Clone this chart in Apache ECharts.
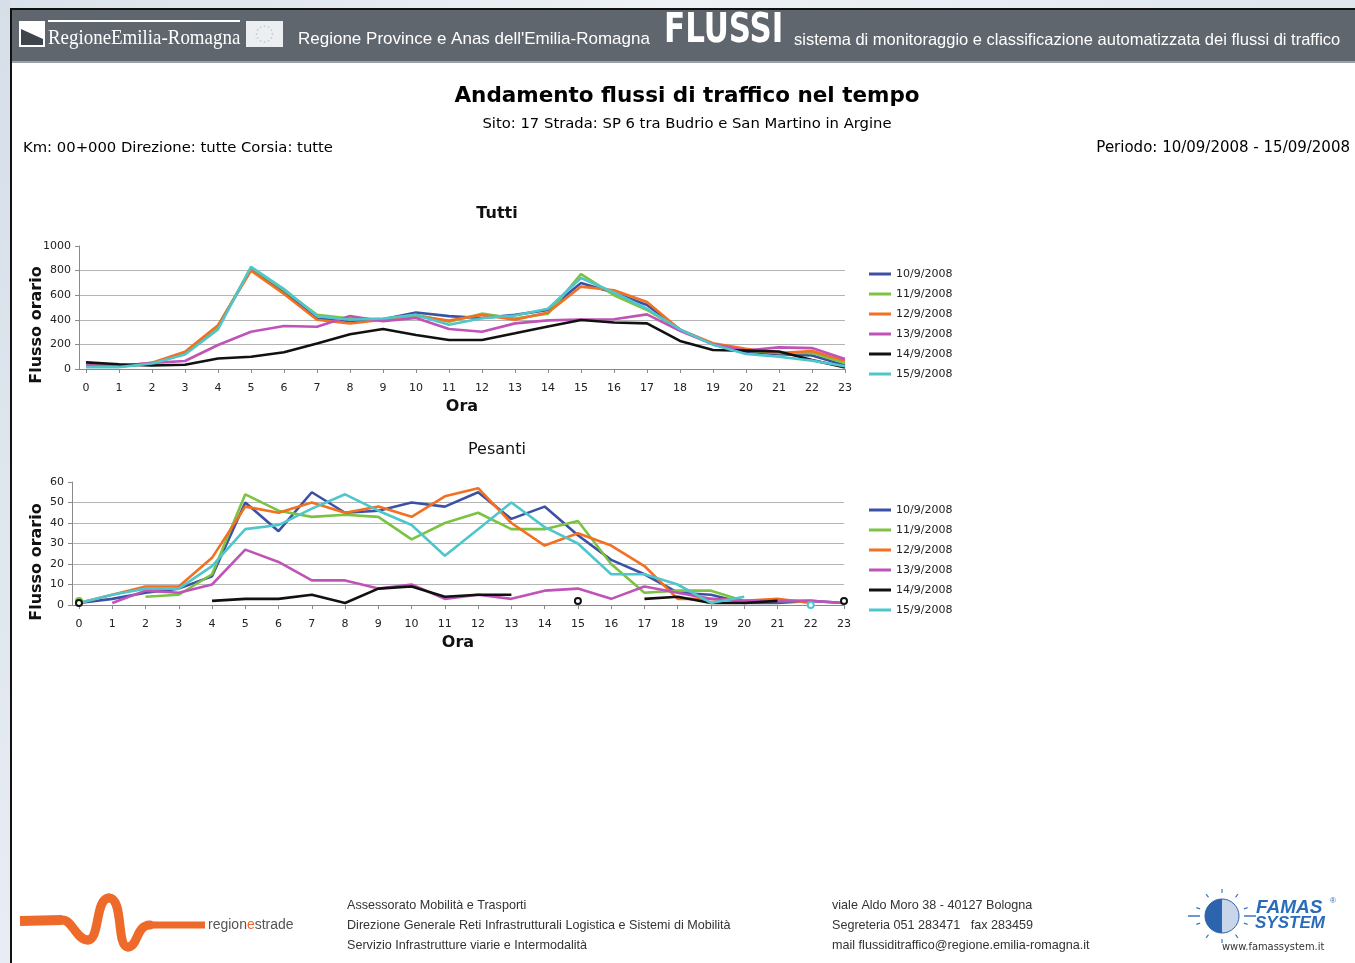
<!DOCTYPE html>
<html>
<head>
<meta charset="utf-8">
<title>Andamento flussi di traffico nel tempo</title>
<script src="https://cdn.jsdelivr.net/npm/echarts@6/dist/echarts.min.js"></script>
<style>
  html, body { margin: 0; padding: 0; background: #fff; }
  #chart { width: 1355px; height: 963px; }
</style>
</head>
<body>
<div id="chart"></div>
<script>
// ore del giorno (asse x)
const hours = [0, 1, 2, 3, 4, 5, 6, 7, 8, 9, 10, 11, 12, 13, 14, 15, 16, 17, 18, 19, 20, 21, 22, 23];
const days = ['10/9/2008', '11/9/2008', '12/9/2008', '13/9/2008', '14/9/2008', '15/9/2008'];
const dayColors = ['#3c51a6', '#7cc243', '#f36f21', '#c053b7', '#111111', '#4ec6cc'];

// Tutti - flusso orario
const tutti10 = [25, 20, 45, 130, 350, 810, 630, 410, 390, 405, 460, 430, 415, 440, 480, 700, 620, 520, 320, 200, 140, 120, 110, 30];
const tutti11 = [30, 20, 45, 130, 340, 825, 640, 440, 410, 405, 440, 385, 450, 410, 450, 772, 600, 480, 320, 200, 150, 130, 133, 46];
const tutti12 = [30, 22, 50, 140, 355, 800, 610, 400, 370, 400, 430, 395, 440, 400, 460, 670, 640, 545, 320, 210, 165, 130, 146, 68];
const tutti13 = [30, 25, 50, 65, 195, 303, 350, 344, 430, 388, 415, 325, 303, 371, 395, 402, 404, 444, 310, 200, 150, 176, 170, 82];
const tutti14 = [54, 38, 28, 35, 85, 100, 136, 208, 282, 325, 276, 236, 236, 290, 345, 398, 378, 371, 228, 154, 149, 142, 73, 12];
const tutti15 = [15, 15, 45, 118, 322, 830, 650, 430, 400, 410, 440, 360, 412, 435, 490, 740, 622, 490, 322, 198, 122, 100, 68, 22];

// Pesanti - flusso orario
const pesanti10 = [1, 3, 6, 8, 14, 50, 36, 55, 45, 46, 50, 48, 55, 42, 48, 34, 22, 15, 6, 5, 1, 1, 2, 1];
const pesanti11 = [2, null, 4, 5, 15, 54, 46, 43, 44, 43, 32, 40, 45, 37, 37, 41, 20, 6, 7, 7, 2, 2, 2, null];
const pesanti12 = [1, 5, 9, 9, 23, 48, 45, 50, 45, 48, 43, 53, 57, 40, 29, 35, 29, 19, 3, 3, 2, 3, 1, null];
const pesanti13 = [null, 1, 7, 6, 10, 27, 21, 12, 12, 8, 10, 3, 5, 3, 7, 8, 3, 9, 6, 3, 2, 2, 2, 1];
const pesanti14 = [1, null, null, null, 2, 3, 3, 5, 1, 8, 9, 4, 5, 5, null, 2, null, 3, 4, 1, 1, 2, null, 2];
const pesanti15 = [1, 5, 8, 8, 19, 37, 39, 47, 54, 46, 39, 24, 37, 50, 38, 30, 15, 15, 10, 1, 4, null, 0, null];

const tuttiSeries = [tutti10, tutti11, tutti12, tutti13, tutti14, tutti15];
const pesantiSeries = [pesanti10, pesanti11, pesanti12, pesanti13, pesanti14, pesanti15];

const FONT = 'DejaVu Sans';

// punti isolati (senza vicini) disegnati come cerchietti
function toPoints(values) {
  return values.map((v, i) => {
    const prev = i > 0 ? values[i - 1] : null;
    const next = i < values.length - 1 ? values[i + 1] : null;
    if (v != null && prev == null && next == null) {
      return { value: [hours[i], v], symbol: 'emptyCircle', symbolSize: 6, itemStyle: { borderWidth: 2.2 } };
    }
    return [hours[i], v];
  });
}

function makeAxes(gridIndex, minX, yMax, yInterval) {
  const xAxis = {
    type: 'value', gridIndex, min: minX, max: 23,
    axisLine: { onZero: false, lineStyle: { color: '#8a8a8a', width: 1 } },
    axisTick: { show: true, length: 4, customValues: hours, lineStyle: { color: '#8a8a8a' } },
    axisLabel: { customValues: hours, color: '#222', fontSize: 11, fontFamily: FONT, margin: 14 },
    splitLine: { show: false },
    name: 'Ora', nameLocation: 'middle', nameGap: 30,
    nameTextStyle: { fontSize: 16, fontWeight: 'bold', fontFamily: FONT, color: '#111' }
  };
  const yAxis = {
    type: 'value', gridIndex, min: 0, max: yMax, interval: yInterval,
    axisLine: { show: true, onZero: false, lineStyle: { color: '#8a8a8a', width: 1 } },
    axisTick: { show: true, length: 4, lineStyle: { color: '#8a8a8a' } },
    axisLabel: { color: '#222', fontSize: 11, fontFamily: FONT, margin: 8, formatter: v => String(v) },
    splitLine: { show: true, showMaxLine: false, lineStyle: { color: '#b4b4b4', width: 1 } }
  };
  return { xAxis, yAxis };
}

const axesTutti = makeAxes(0, -0.212, 1000, 200);
const axesPesanti = makeAxes(1, -0.21, 60, 10);

function makeSeries(list, idx) {
  return list.map((vals, i) => ({
    name: days[i],
    type: 'line',
    xAxisIndex: idx, yAxisIndex: idx,
    data: toPoints(vals),
    symbol: 'none',
    showSymbol: true,
    connectNulls: false,
    animation: false,
    color: dayColors[i],
    lineStyle: { width: 2.6, color: dayColors[i] },
    itemStyle: { color: dayColors[i] }
  }));
}

function legendAt(topY) {
  return {
    data: days, orient: 'vertical', left: 869, top: topY, padding: 0,
    icon: 'rect', itemWidth: 22, itemHeight: 3, itemGap: 8,
    selectedMode: false,
    textStyle: { fontSize: 11, fontFamily: FONT, color: '#222', lineHeight: 12 }
  };
}

// decorazioni della pagina (intestazione e piè di pagina)
const euStars = [];
for (let k = 0; k < 12; k++) {
  const a = k * Math.PI / 6;
  euStars.push({ type: 'circle', shape: { cx: 264.5 + 8 * Math.cos(a), cy: 34 + 8 * Math.sin(a), r: 0.9 }, style: { fill: '#c9cdd2' } });
}
const famasRays = [];
for (let k = 0; k < 10; k++) {
  const a = -Math.PI / 2 + k * Math.PI / 5;
  famasRays.push({ type: 'line', shape: { x1: 1222 + 23 * Math.cos(a), y1: 916 + 23 * Math.sin(a), x2: 1222 + 27 * Math.cos(a), y2: 916 + 27 * Math.sin(a) }, style: { stroke: '#3a79c0', lineWidth: 1.2 } });
}
const waveStyle = { fill: 'none', stroke: '#ee6a2a', lineWidth: 9, lineCap: 'round' };
const wave = [
  { type: 'line', shape: { x1: 20, y1: 921, x2: 62, y2: 920 }, style: Object.assign({}, waveStyle, { lineCap: 'butt', lineWidth: 10 }) },
  { type: 'bezierCurve', shape: { x1: 62, y1: 920, cpx1: 72, cpy1: 919, cpx2: 76, cpy2: 940, x2: 88, y2: 940 }, style: waveStyle },
  { type: 'bezierCurve', shape: { x1: 88, y1: 940, cpx1: 100, cpy1: 940, cpx2: 95, cpy2: 898, x2: 109, y2: 898 }, style: waveStyle },
  { type: 'bezierCurve', shape: { x1: 109, y1: 898, cpx1: 124, cpy1: 898, cpx2: 116, cpy2: 947, x2: 128, y2: 947 }, style: waveStyle },
  { type: 'bezierCurve', shape: { x1: 128, y1: 947, cpx1: 138, cpy1: 947, cpx2: 136, cpy2: 925, x2: 150, y2: 925 }, style: waveStyle },
  { type: 'line', shape: { x1: 150, y1: 925, x2: 205, y2: 925 }, style: Object.assign({}, waveStyle, { lineCap: 'butt', lineWidth: 7 }) }
];

const footFont = '12.6px "Liberation Sans"';
const graphics = [
  { type: 'rect', z: -10, shape: { x: 0, y: 0, width: 1355, height: 963 }, style: { fill: '#ffffff' } },
  { type: 'rect', z: -9, shape: { x: 0, y: 0, width: 1355, height: 9 }, style: { fill: new echarts.graphic.LinearGradient(0, 0, 1, 0, [{ offset: 0, color: '#d9e1ea' }, { offset: 0.5, color: '#eef2f6' }, { offset: 1, color: '#dfe6ee' }]) } },
  { type: 'rect', z: -9, shape: { x: 0, y: 0, width: 10, height: 963 }, style: { fill: new echarts.graphic.LinearGradient(0, 0, 0, 1, [{ offset: 0, color: '#d6dee8' }, { offset: 1, color: '#e8edf3' }]) } },
  { type: 'rect', shape: { x: 10, y: 8, width: 1345, height: 2 }, style: { fill: '#111' } },
  { type: 'rect', shape: { x: 10, y: 8, width: 2, height: 955 }, style: { fill: '#111' } },
  // intestazione
  { type: 'rect', shape: { x: 12, y: 10, width: 1343, height: 51 }, style: { fill: '#5f666e' } },
  { type: 'rect', shape: { x: 12, y: 61, width: 1343, height: 2 }, style: { fill: '#9aa0a6' } },
  { type: 'rect', shape: { x: 19, y: 21, width: 26, height: 26 }, style: { fill: '#ffffff' } },
  { type: 'polygon', shape: { points: [[21, 29], [43, 39], [43, 45], [21, 45]] }, style: { fill: '#3f454c' } },
  { type: 'rect', shape: { x: 48, y: 20, width: 192, height: 2 }, style: { fill: '#ffffff' } },
  { type: 'text', x: 48, y: 38, scaleX: 0.86, style: { text: 'RegioneEmilia-Romagna', font: '22px "Liberation Serif"', fill: '#ffffff', verticalAlign: 'middle' } },
  { type: 'rect', shape: { x: 246, y: 21, width: 37, height: 26 }, style: { fill: '#eceff2' } },
  ...euStars,
  { type: 'text', x: 298, y: 39, style: { text: "Regione Province e Anas dell'Emilia-Romagna", font: '17px "Liberation Sans"', fill: '#ffffff', verticalAlign: 'middle' } },
  { type: 'text', x: 664, y: 32, scaleX: 0.86, style: { text: 'FLUSSI', font: 'bold 40px "DejaVu Sans Condensed"', fill: '#ffffff', verticalAlign: 'middle' } },
  { type: 'text', x: 794, y: 40, style: { text: 'sistema di monitoraggio e classificazione automatizzata dei flussi di traffico', font: '16.5px "Liberation Sans"', fill: '#ffffff', verticalAlign: 'middle' } },
  // intestazione del rapporto
  { type: 'text', x: 687, y: 96, style: { text: 'Andamento flussi di traffico nel tempo', font: 'bold 21.5px "DejaVu Sans"', fill: '#000', align: 'center', verticalAlign: 'middle' } },
  { type: 'text', x: 687, y: 124, style: { text: 'Sito: 17 Strada: SP 6 tra Budrio e San Martino in Argine', font: '14.8px "DejaVu Sans"', fill: '#000', align: 'center', verticalAlign: 'middle' } },
  { type: 'text', x: 23, y: 148, style: { text: 'Km: 00+000 Direzione: tutte Corsia: tutte', font: '14.8px "DejaVu Sans"', fill: '#000', verticalAlign: 'middle' } },
  { type: 'text', x: 1350, y: 148, style: { text: 'Periodo: 10/09/2008 - 15/09/2008', font: '15px "DejaVu Sans"', fill: '#000', align: 'right', verticalAlign: 'middle' } },
  // titoli degli assi y
  { type: 'text', x: 37, y: 325, rotation: Math.PI / 2, style: { text: 'Flusso orario', font: 'bold 16px "DejaVu Sans"', fill: '#111', align: 'center', verticalAlign: 'middle' } },
  { type: 'text', x: 37, y: 562, rotation: Math.PI / 2, style: { text: 'Flusso orario', font: 'bold 16px "DejaVu Sans"', fill: '#111', align: 'center', verticalAlign: 'middle' } },
  // piè di pagina
  ...wave,
  { type: 'text', x: 208, y: 925, style: { text: 'region{o|e}strade', font: '14px "Liberation Sans"', fill: '#555', verticalAlign: 'middle', rich: { o: { fill: '#ee6a2a', font: '14px "Liberation Sans"' } } } },
  { type: 'text', x: 347, y: 906, style: { text: 'Assessorato Mobilità e Trasporti', font: footFont, fill: '#333', verticalAlign: 'middle' } },
  { type: 'text', x: 347, y: 926, style: { text: 'Direzione Generale Reti Infrastrutturali Logistica e Sistemi di Mobilità', font: footFont, fill: '#333', verticalAlign: 'middle' } },
  { type: 'text', x: 347, y: 946, style: { text: 'Servizio Infrastrutture viarie e Intermodalità', font: footFont, fill: '#333', verticalAlign: 'middle' } },
  { type: 'text', x: 832, y: 906, style: { text: 'viale Aldo Moro 38 - 40127 Bologna', font: footFont, fill: '#333', verticalAlign: 'middle' } },
  { type: 'text', x: 832, y: 926, style: { text: 'Segreteria 051 283471   fax 283459', font: footFont, fill: '#333', verticalAlign: 'middle' } },
  { type: 'text', x: 832, y: 946, style: { text: 'mail flussiditraffico@regione.emilia-romagna.it', font: footFont, fill: '#333', verticalAlign: 'middle' } },
  ...famasRays,
  { type: 'line', shape: { x1: 1188, y1: 916, x2: 1200, y2: 916 }, style: { stroke: '#3a79c0', lineWidth: 1.5 } },
  { type: 'line', shape: { x1: 1244, y1: 916, x2: 1256, y2: 916 }, style: { stroke: '#3a79c0', lineWidth: 1.5 } },
  { type: 'circle', shape: { cx: 1222, cy: 916, r: 17 }, style: { fill: '#c9d5e8', stroke: '#2c64ad', lineWidth: 1 } },
  { type: 'sector', shape: { cx: 1222, cy: 916, r: 17, startAngle: Math.PI / 2, endAngle: Math.PI * 1.5 }, style: { fill: '#2c64ad' } },
  { type: 'text', x: 1256, y: 908, style: { text: 'FAMAS', font: 'italic bold 19px "Liberation Sans"', fill: '#2a6cb8', verticalAlign: 'middle' } },
  { type: 'text', x: 1330, y: 901, style: { text: '®', font: '8px "Liberation Sans"', fill: '#2a6cb8', verticalAlign: 'middle' } },
  { type: 'text', x: 1255, y: 923, style: { text: 'SYSTEM', font: 'italic bold 17px "Liberation Sans"', fill: '#2a6cb8', verticalAlign: 'middle' } },
  { type: 'text', x: 1222, y: 947, style: { text: 'www.famassystem.it', font: '11px "DejaVu Sans Condensed"', fill: '#333', verticalAlign: 'middle' } }
];

const chart = echarts.init(document.getElementById('chart'), null, { renderer: 'canvas' });
chart.setOption({
  backgroundColor: '#ffffff',
  animation: false,
  title: [
    { text: 'Tutti', left: 492, top: 209, textAlign: 'center', textVerticalAlign: 'middle', textStyle: { fontFamily: FONT, fontSize: 16, fontWeight: 'bold', color: '#111' } },
    { text: 'Pesanti', left: 492, top: 445, textAlign: 'center', textVerticalAlign: 'middle', textStyle: { fontFamily: FONT, fontSize: 16, fontWeight: 'normal', color: '#111' } }
  ],
  legend: [legendAt(268), legendAt(504)],
  grid: [
    { left: 79, top: 246, width: 766, height: 123 },
    { left: 72, top: 482, width: 772, height: 123 }
  ],
  xAxis: [axesTutti.xAxis, axesPesanti.xAxis],
  yAxis: [axesTutti.yAxis, axesPesanti.yAxis],
  series: [...makeSeries(tuttiSeries, 0), ...makeSeries(pesantiSeries, 1)],
  graphic: graphics
});
window.addEventListener('resize', () => chart.resize());
</script>
</body>
</html>
